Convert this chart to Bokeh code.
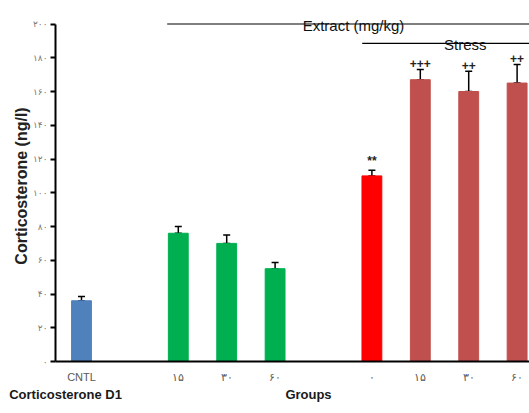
from bokeh.plotting import figure
from bokeh.models import ColumnDataSource, Whisker, TeeHead, FixedTicker, Range1d, LinearAxis
from bokeh.core.properties import value
from bokeh.embed import file_html
from bokeh.resources import INLINE

# ---- data ----
group_labels = ["CNTL", "۱۵", "۳۰", "۶۰", "۰", "۱۵", "۳۰", "۶۰"]
group_pos = [0, 2, 3, 4, 6, 7, 8, 9]
means = [36, 76, 70, 55, 110, 167, 160, 165]
errors = [2.5, 4, 5, 3.7, 3.4, 6, 12, 11]
colors = ["#4f81bd", "#00b050", "#00b050", "#00b050", "#ff0000", "#c0504d", "#c0504d", "#c0504d"]
marks = ["", "", "", "", "**", "+++", "++", "++"]
y_ticks = [0, 20, 40, 60, 80, 100, 120, 140, 160, 180, 200]
y_tick_labels = ["۰", "۲۰", "۴۰", "۶۰", "۸۰", "۱۰۰", "۱۲۰", "۱۴۰", "۱۶۰", "۱۸۰", "۲۰۰"]
bracket_labels = ["Extract (mg/kg)", "Stress"]
bracket_levels = [200, 188.5]
bracket_start = [1.77, 5.8]
bracket_text_x = [5.62, 7.93]
bottom_texts = {-0.33: "Corticosterone D1", 4.69: "Groups"}

upper = [m + e for m, e in zip(means, errors)]
src = ColumnDataSource(dict(x=group_pos, top=means, lower=means, upper=upper,
                            color=colors, mark=marks,
                            mark_y=[u + 1 for u in upper]))

p = figure(width=529, height=413, output_backend="svg", toolbar_location=None,
           x_range=Range1d(-0.537, 9.256), y_range=Range1d(0, 208),
           min_border_left=55, min_border_right=0, min_border_top=10, min_border_bottom=52)
p.outline_line_color = None
p.grid.visible = False
p.background_fill_color = "white"

p.vbar(x="x", top="top", width=0.41, color="color", line_color="color", source=src)
p.add_layout(Whisker(source=src, base="x", lower="lower", upper="upper",
                     line_color="black", line_width=1.5,
                     upper_head=TeeHead(size=7, line_width=1.5, line_color="black"),
                     lower_head=TeeHead(size=7, line_width=1.5, line_color="black")))
p.text(x="x", y="mark_y", text="mark", source=src, text_align="center",
       text_baseline="bottom", text_font_size="12px", text_font_style="bold",
       text_color="#222222", text_font=value("Liberation Sans"))

# group bracket lines
p.segment(x0=bracket_start, y0=bracket_levels, x1=[9.6, 9.6], y1=bracket_levels,
          line_color="black", line_width=1.2)
p.text(x=bracket_text_x, y=[l - 0.8 for l in bracket_levels], text=bracket_labels,
       text_align="center", text_baseline="alphabetic", text_font_size="15px",
       text_color="#111111", text_font=value("Liberation Sans"))

# axes
yax = p.yaxis[0]
yax.bounds = (0, 200)
yax.ticker = FixedTicker(ticks=y_ticks)
yax.major_label_overrides = {t: l for t, l in zip(y_ticks, y_tick_labels)}
yax.major_label_text_font = "DejaVu Sans"
yax.major_label_text_font_size = "9px"
yax.major_label_text_color = "#777777"
yax.major_tick_out = 5
yax.major_tick_in = 0
yax.major_tick_line_width = 2
yax.minor_tick_line_color = None
yax.axis_line_width = 2
yax.axis_line_color = "black"
yax.major_label_standoff = 3
yax.axis_label = "Corticosterone (ng/l)"
yax.axis_label_text_font = "Liberation Sans"
yax.axis_label_text_font_style = "bold"
yax.axis_label_text_font_size = "16px"
yax.axis_label_text_color = "#222222"
yax.axis_label_standoff = 0

xax = p.xaxis[0]
xax.ticker = FixedTicker(ticks=group_pos)
xax.major_label_overrides = {pos: lab for pos, lab in zip(group_pos, group_labels)}
xax.major_label_text_font = "Liberation Sans"
xax.major_label_text_font_size = "11px"
xax.major_label_text_color = "#595959"
xax.major_tick_line_color = None
xax.minor_tick_line_color = None
xax.axis_line_width = 2
xax.axis_line_color = "black"
xax.major_label_standoff = 3

# second row of texts under the group labels
xax2 = LinearAxis(ticker=FixedTicker(ticks=list(bottom_texts.keys())),
                  major_label_overrides=bottom_texts)
xax2.axis_line_color = None
xax2.major_tick_line_color = None
xax2.minor_tick_line_color = None
xax2.major_label_standoff = -5
xax2.major_label_text_font = "Liberation Sans"
xax2.major_label_text_font_style = "bold"
xax2.major_label_text_font_size = "13px"
xax2.major_label_text_color = "#1a1a1a"
p.add_layout(xax2, "below")

open("out.html", "w").write(file_html(p, INLINE))
